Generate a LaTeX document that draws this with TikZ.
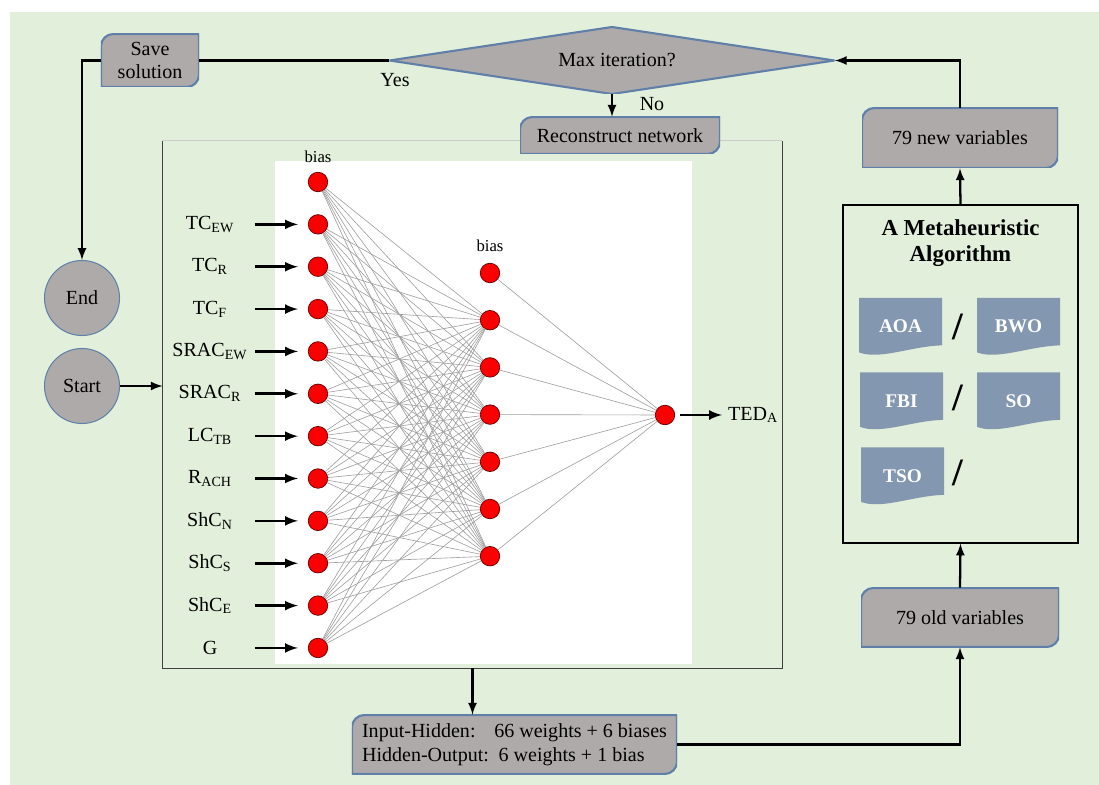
\documentclass[tikz,border=0pt]{standalone}
\usepackage{fontspec}
\setmainfont{Liberation Serif}
\usetikzlibrary{shapes.geometric}

\definecolor{bggreen}{RGB}{226,239,218}
\definecolor{boxgrey}{RGB}{174,170,170}
\definecolor{boxedge}{RGB}{96,128,170}
\definecolor{docblue}{RGB}{132,151,176}
\definecolor{neuronred}{RGB}{250,0,0}

\begin{document}
\begin{tikzpicture}[
    x=0.2mm,
    y=-0.2mm,
    font=\fontsize{11.4}{13.5}\selectfont,
    greybox/.style={
        rectangle,
        inner sep=0pt,
        align=center,
        path picture={
            \filldraw[fill=boxgrey, draw=boxedge, line width=1.2pt]
            (path picture bounding box.west) [rounded corners=7pt]
            -- (path picture bounding box.north west)
            -- (path picture bounding box.north) [sharp corners]
            -- (path picture bounding box.north east)
            -- (path picture bounding box.east) [rounded corners=7pt]
            -- (path picture bounding box.south east)
            -- (path picture bounding box.south) [sharp corners]
            -- (path picture bounding box.south west)
            -- cycle;
        }
    },
    decision/.style={
        rectangle,
        inner sep=0pt,
        minimum width=89mm,
        minimum height=13.4mm,
        path picture={
            \filldraw[fill=boxgrey, draw=boxedge, line width=1.2pt]
            (path picture bounding box.west)
            -- (path picture bounding box.north)
            -- (path picture bounding box.east)
            -- (path picture bounding box.south)
            -- cycle;
        }
    },
    docshape/.style={
        rectangle,
        inner sep=0pt,
        text=white,
        font=\bfseries\fontsize{11}{13}\selectfont,
        minimum width=16.6mm,
        minimum height=11.4mm,
        path picture={
            \fill[docblue]
            (path picture bounding box.north west)
            -- (path picture bounding box.north east)
            -- ([yshift=5.5pt]path picture bounding box.south east)
            .. controls ([xshift=6pt,yshift=5pt]path picture bounding box.south)
            and ([xshift=-12pt,yshift=-3pt]path picture bounding box.south)
            .. ([yshift=1.5pt]path picture bounding box.south west)
            -- cycle;
        }
    },
    terminal/.style={
        circle,
        fill=boxgrey,
        draw=boxedge,
        line width=0.6pt,
        minimum size=15mm,
        inner sep=0pt
    },
    neuron/.style={
        circle,
        fill=neuronred,
        draw=red!40!black,
        line width=0.4pt,
        minimum size=3.9mm,
        inner sep=0pt
    },
    wire/.style={
        gray!75,
        line width=0.35pt
    },
    arrow/.style={
        -latex,
        line width=1.3pt
    },
    inarrow/.style={
        -latex,
        line width=1.5pt
    },
    slash/.style={
        font=\bfseries\fontsize{22}{22}\selectfont
    }
]

% background
\fill[white] (0,0) rectangle (1099,785);
\fill[bggreen] (10,12) rectangle (1099,785);

% network frame and panel
\node[minimum width=123.8mm, minimum height=105.4mm, inner sep=0pt] (nnframe) at (472.5,404.5) {};
\draw[gray!40, line width=0.5pt] (nnframe.north west) -- (nnframe.north east);
\draw[gray!50!black, line width=0.6pt] (nnframe.north west) -- (nnframe.south west) -- (nnframe.south east) -- (nnframe.north east);
\node[fill=white, minimum width=83.4mm, minimum height=100.6mm, inner sep=0pt] (panel) at (483.5,412.5) {};

% flow boxes
\node[greybox, minimum width=19.6mm, minimum height=10.6mm] (save) at (150,60.5) {Save\\solution};
\node[decision] (maxit) at (612,60.5) {\hspace*{2mm}Max iteration?};
\node[greybox, minimum width=40mm, minimum height=7.4mm] (recon) at (620,135.5) {Reconstruct network};
\node[terminal] (endc) at (82,298) {End};
\node[terminal] (startc) at (82,386) {Start};
\node[greybox, minimum width=39.2mm, minimum height=12mm] (newvar) at (960,138) {79 new variables};
\node[greybox, minimum width=39.6mm, minimum height=11.8mm] (oldvar) at (960,617.5) {79 old variables};
\node[greybox, minimum width=65mm, minimum height=11.8mm, align=left] (params) at (514.5,744.5)
    {Input-Hidden:\hspace{0.6em} 66 weights + 6 biases\\Hidden-Output:\hspace{0.15em} 6 weights + 1 bias};

\node (yes) at (395,80) {Yes};
\node (no) at (652,104) {No};

% metaheuristic block
\node[draw=black, line width=0.7pt, minimum width=47mm, minimum height=67.6mm, inner sep=0pt] (meta) at (960.5,374) {};
\node[font=\bfseries\fontsize{13}{15}\selectfont, align=center] (title) at (960.5,243) {A Metaheuristic\\Algorithm};
\node[docshape] (aoa) at (900.5,326.5) {AOA};
\node[docshape] (bwo) at (1018.5,326.5) {BWO};
\node[docshape] (fbi) at (901.5,401) {FBI};
\node[docshape] (so) at (1018.5,401) {SO};
\node[docshape] (tso) at (902.5,476) {TSO};
\node[slash] (sl1) at (958,327) {/};
\node[slash] (sl2) at (958,398) {/};
\node[slash] (sl3) at (958,473) {/};

% neurons
\foreach \k in {0,...,11}
    \node[neuron] (i\k) at (318,{182+42.36*\k}) {};
\foreach \k in {0,...,6}
    \node[neuron] (h\k) at (490,{273+47.2*\k}) {};
\node[neuron] (out) at (665,415) {};

\node[font=\fontsize{9.5}{11}\selectfont] (bias1) at (318,157) {bias};
\node[font=\fontsize{9.5}{11}\selectfont] (bias2) at (490,246) {bias};

% weights
\foreach \a in {0,...,11}
    \foreach \b in {1,...,6}
        \draw[wire] (i\a) -- (h\b);
\foreach \b in {0,...,6}
    \draw[wire] (h\b) -- (out);

% inputs
\foreach \k/\lab in {1/TC\textsubscript{EW}, 2/TC\textsubscript{R}, 3/TC\textsubscript{F},
    4/SRAC\textsubscript{EW}, 5/SRAC\textsubscript{R}, 6/LC\textsubscript{TB},
    7/R\textsubscript{ACH}, 8/ShC\textsubscript{N}, 9/ShC\textsubscript{S},
    10/ShC\textsubscript{E}, 11/G}
{
    \node (lab\k) at (210,{182+42.36*\k}) {\lab};
    \draw[inarrow] ([xshift=-10.6mm]i\k.west) -- ([xshift=-2mm]i\k.west);
}

% output
\node[anchor=west] (ted) at (722,415) {TED\textsubscript{A}};
\draw[inarrow, shorten <=1mm] (out) -- (ted);

% flow connectors
\draw[line width=1.3pt] (maxit.west) -- (save.east);
\draw[arrow] (save.west) -- (save.west -| endc.north) -- (endc.north);
\draw[arrow] (maxit.south) -- (maxit.south |- recon.north);
\draw[arrow] (newvar.north) |- (maxit.east);
\draw[arrow] (meta.north) -- (newvar.south);
\draw[arrow] (oldvar.north) -- (meta.south);
\draw[arrow] (params.east) -| (oldvar.south);
\draw[arrow] (nnframe.south) -- (nnframe.south |- params.north);
\draw[arrow] (startc.east) -- (startc.east -| nnframe.west);

\end{tikzpicture}
\end{document}
